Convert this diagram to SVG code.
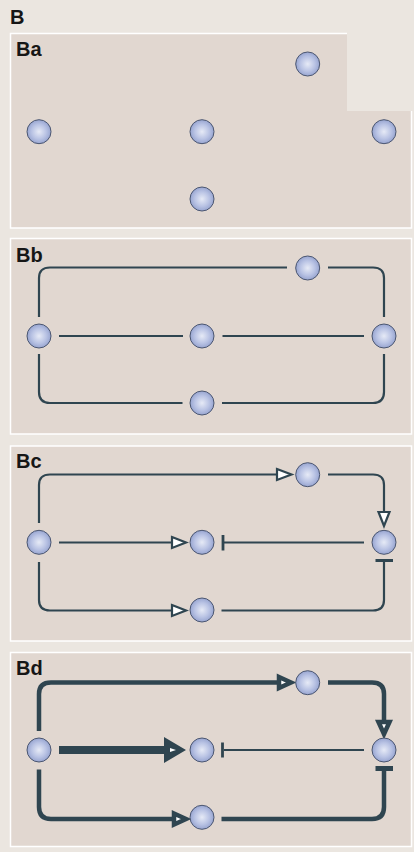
<svg xmlns="http://www.w3.org/2000/svg" width="414" height="852" viewBox="0 0 414 852">
  <style>
    .panel { fill: #e1d7d0; stroke: #ffffff; stroke-width: 1.5; }
    .fill { fill: #e1d7d0; }
    .edge { fill: none; stroke: #ffffff; stroke-width: 1.5; }
    .label { font-family: "Liberation Sans", "DejaVu Sans", sans-serif; font-weight: bold; font-size: 20px; fill: #161616; }
    .node { fill: url(#ball); stroke: #4b5670; stroke-width: 1; }
    .ln { fill: none; stroke: #2f4550; stroke-width: 2.2; stroke-linecap: butt; }
    .lnb { fill: none; stroke: #2f4550; stroke-width: 4.5; stroke-linecap: butt; }
    .head { fill: #ffffff; stroke: #2f4550; stroke-width: 2.2; stroke-linejoin: miter; }
    .headb { fill: #ffffff; stroke: #2f4550; stroke-width: 4.5; stroke-linejoin: miter; }
    .solid { fill: #2f4550; }
  </style>
  <defs>
    <radialGradient id="ball" cx="0.5" cy="0.5" r="0.55">
      <stop offset="0" stop-color="#e6eaf6"/>
      <stop offset="0.55" stop-color="#b9c3e4"/>
      <stop offset="1" stop-color="#8f9dcb"/>
    </radialGradient>
  </defs>

  <!-- page -->
  <rect x="0" y="0" width="414" height="852" fill="#ebe6e0"/>
  <text class="label" x="10" y="24">B</text>

  <!-- panel backgrounds; the first panel has its upper right corner notched out -->
  <path class="fill" d="M10.5 33.5 H347 V111 H412 V228 H10.5 Z"/>
  <path class="edge" d="M347 33.5 H10.5 V228 H411.5 V111"/>
  <rect class="panel" x="10.5" y="238.5" width="401" height="195.5"/>
  <rect class="panel" x="10.5" y="446" width="401" height="195"/>
  <rect class="panel" x="10.5" y="652.5" width="401" height="194"/>

  <text class="label" x="16" y="56">Ba</text>
  <text class="label" x="16" y="262">Bb</text>
  <text class="label" x="16" y="468">Bc</text>
  <text class="label" x="16" y="675">Bd</text>

  <!-- connectors -->
  <g id="connectors">
    <!-- Bb: undirected links -->
    <path class="ln" d="M39 317 V278 Q39 267.5 50 267.5 H287"/>
    <path class="ln" d="M328 267.5 H373 Q384 267.5 384 278 V317"/>
    <path class="ln" d="M59 336 H183"/>
    <path class="ln" d="M222.5 336 H364"/>
    <path class="ln" d="M39 354 V392 Q39 403 50 403 H182.5"/>
    <path class="ln" d="M222 403 H373 Q384 403 384 392 V354"/>

    <!-- Bc: activation / inhibition, thin -->
    <path class="ln" d="M39 523 V485 Q39 474.5 50 474.5 H277"/>
    <polygon class="head" points="277,469 291.5,474.5 277,480"/>
    <path class="ln" d="M328 474.5 H373 Q384 474.5 384 485 V512"/>
    <polygon class="head" points="378.5,512 384,526 389.5,512"/>
    <path class="ln" d="M59 542.5 H172"/>
    <polygon class="head" points="172,537 186,542.5 172,548"/>
    <path class="ln" d="M224 542.5 H364"/>
    <path class="ln" d="M223 535 V550.5" style="stroke-width:2.8"/>
    <path class="ln" d="M39 562 V600 Q39 610.5 50 610.5 H172"/>
    <polygon class="head" points="172,605 186,610.5 172,616"/>
    <path class="ln" d="M221.5 610.5 H373 Q384 610.5 384 600 V561"/>
    <path class="ln" d="M375.5 560.5 H393" style="stroke-width:3"/>

    <!-- Bd: weighted version, thick -->
    <path class="lnb" d="M39 731 V694 Q39 682.5 51 682.5 H279"/>
    <polygon class="headb" points="279,677 291,682.5 279,688"/>
    <path class="lnb" d="M328 682.5 H372 Q384 682.5 384 694 V722"/>
    <polygon class="headb" points="378.5,722 384,734 389.5,722"/>
    <path class="solid" d="M59 746 H164 V737 L186 750 L164 763 V754 H59 Z"/>
    <polygon points="170,748 176,750 170,752" fill="#ffffff"/>
    <path class="ln" d="M224 750 H364"/>
    <path class="ln" d="M222.5 742.5 V757.5" style="stroke-width:2.8"/>
    <path class="lnb" d="M39 769.5 V807 Q39 819 51 819 H174"/>
    <polygon class="headb" points="174,813.5 186,819 174,824.5"/>
    <path class="lnb" d="M221.5 819 H372 Q384 819 384 807 V769"/>
    <path class="lnb" d="M375.5 768.5 H393" style="stroke-width:5"/>
  </g>

  <!-- Ba nodes -->
  <g id="ba-top"><circle class="node" cx="307.7" cy="64" r="12"/></g>
  <g id="ba-left"><circle class="node" cx="39" cy="131.7" r="12"/></g>
  <g id="ba-mid"><circle class="node" cx="202" cy="131.7" r="12"/></g>
  <g id="ba-right"><circle class="node" cx="384" cy="131.7" r="12"/></g>
  <g id="ba-bottom"><circle class="node" cx="202" cy="199" r="12"/></g>

  <!-- Bb nodes -->
  <g id="bb-top"><circle class="node" cx="307.7" cy="268" r="12"/></g>
  <g id="bb-left"><circle class="node" cx="39" cy="336" r="12"/></g>
  <g id="bb-mid"><circle class="node" cx="202" cy="336" r="12"/></g>
  <g id="bb-right"><circle class="node" cx="384" cy="336" r="12"/></g>
  <g id="bb-bottom"><circle class="node" cx="202" cy="403" r="12"/></g>

  <!-- Bc nodes -->
  <g id="bc-top"><circle class="node" cx="307.7" cy="474.7" r="12"/></g>
  <g id="bc-left"><circle class="node" cx="39" cy="542.3" r="12"/></g>
  <g id="bc-mid"><circle class="node" cx="202" cy="542.3" r="12"/></g>
  <g id="bc-right"><circle class="node" cx="384" cy="542.3" r="12"/></g>
  <g id="bc-bottom"><circle class="node" cx="202" cy="610" r="12"/></g>

  <!-- Bd nodes -->
  <g id="bd-top"><circle class="node" cx="307.7" cy="682.7" r="12"/></g>
  <g id="bd-left"><circle class="node" cx="39" cy="750" r="12"/></g>
  <g id="bd-mid"><circle class="node" cx="202" cy="750" r="12"/></g>
  <g id="bd-right"><circle class="node" cx="384" cy="750" r="12"/></g>
  <g id="bd-bottom"><circle class="node" cx="202" cy="817.3" r="12"/></g>
</svg>
